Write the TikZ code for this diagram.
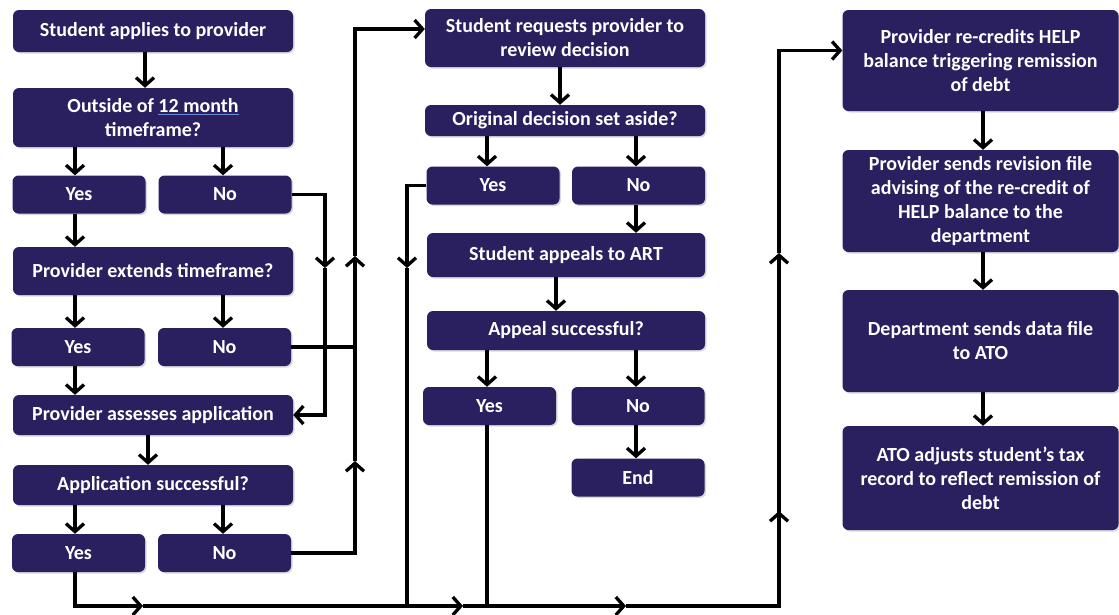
\documentclass[tikz,border=0pt]{standalone}
\usepackage{fontspec}
\setmainfont{Carlito}
\usetikzlibrary{arrows.meta,shadows}

\definecolor{boxblue}{RGB}{42,31,95}
\definecolor{ulblue}{RGB}{110,140,220}

\tikzset{
    box/.style = {fill=boxblue, text=white, rounded corners=6pt, align=center,
        font=\bfseries\fontsize{20}{24}\selectfont, inner sep=1pt,
        drop shadow={shadow xshift=1.5pt, shadow yshift=-1.5pt, opacity=.3}},
    wide/.style  = {box, minimum width=280pt},
    small/.style = {box, minimum width=133pt, minimum height=38pt},
    arr/.style   = {line width=3.3pt, -{Straight Barb[length=8pt, width=18pt]}},
    wire/.style  = {line width=3.3pt}
}

\begin{document}
\begin{tikzpicture} [x=1pt, y=-1pt]
    \useasboundingbox (0,0) rectangle (1119,614);

    % Linke Spalte
    \node [wide, minimum height=42pt] (apply)  at (153,31)   {Student applies to provider};
    \node [wide, minimum height=59pt] (outside) at (153,117.5)
        {Outside of \textcolor{ulblue}{\underline{\textcolor{white}{12 month}}}\\timeframe?};
    \node [small] (yesA) at (79,194.5)  {Yes};
    \node [small] (noA)  at (225,194.5) {No};
    \node [wide, minimum height=48pt] (extend) at (153,271)  {Provider extends timeframe?};
    \node [small] (yesB) at (78,347)    {Yes};
    \node [small] (noB)  at (224.5,347) {No};
    \node [wide, minimum height=40pt] (assess) at (153,415)  {Provider assesses application};
    \node [wide, minimum height=40pt] (appsucc) at (153,485) {Application successful?};
    \node [small] (yesC) at (78.5,553)  {Yes};
    \node [small] (noC)  at (224.5,553) {No};

    % Mittlere Spalte
    \node [wide, minimum height=58pt] (review) at (565,38)    {Student requests provider to\\review decision};
    \node [wide, minimum height=31pt] (aside)  at (565,120.5) {Original decision set aside?};
    \node [small] (yesD) at (493,185.5)   {Yes};
    \node [small] (noD)  at (638.5,185.5) {No};
    \node [wide, minimum width=278pt, minimum height=44pt] (art)     at (566,255)   {Student appeals to ART};
    \node [wide, minimum width=278pt, minimum height=39pt] (appeal)  at (566,330.5) {Appeal successful?};
    \node [small] (yesE) at (489.5,406) {Yes};
    \node [small] (noE)  at (638,406)   {No};
    \node [small] (end)  at (638,477.5) {End};

    % Rechte Spalte
    \node [wide, minimum width=276pt, minimum height=101pt] (recredit) at (980.5,60.5)
        {Provider re-credits HELP\\balance triggering remission\\of debt};
    \node [wide, minimum width=276pt, minimum height=102pt] (revfile)  at (980.5,201)
        {Provider sends revision file\\advising of the re-credit of\\HELP balance to the\\department};
    \node [wide, minimum width=276pt, minimum height=102pt] (datafile) at (980.5,341)
        {Department sends data file\\to ATO};
    \node [wide, minimum width=276pt, minimum height=104pt] (adjust)   at (980.5,478)
        {ATO adjusts student's tax\\record to reflect remission of\\debt};

    % Hilfspunkte
    \coordinate (k1) at (325,268);
    \coordinate (k2) at (355,461);
    \coordinate (k3) at (355,256);
    \coordinate (q1) at (407,268);
    \coordinate (m1) at (143,606);
    \coordinate (m2) at (463,606);
    \coordinate (m3) at (626,606);
    \coordinate (m4) at (779,511);
    \coordinate (m5) at (779,253);

    % Pfeile links
    \draw [arr] (apply.south -| 145,0) -- (outside.north -| 145,0);
    \draw [arr] (outside.south -| 75,0) -- (yesA.north -| 75,0);
    \draw [arr] (outside.south -| 223,0) -- (noA.north -| 223,0);
    \draw [arr] (yesA.south -| 75,0) -- (extend.north -| 75,0);
    \draw [arr] (extend.south -| 75,0) -- (yesB.north -| 75,0);
    \draw [arr] (extend.south -| 223,0) -- (noB.north -| 223,0);
    \draw [arr] (yesB.south -| 75,0) -- (assess.north -| 75,0);
    \draw [arr] (assess.south -| 148,0) -- (appsucc.north -| 148,0);
    \draw [arr] (appsucc.south -| 75,0) -- (yesC.north -| 75,0);
    \draw [arr] (appsucc.south -| 223,0) -- (noC.north -| 223,0);

    % No -> Provider assesses application
    \draw [arr] (noA.east) -| (k1);
    \draw [arr] (k1) |- (assess.east);

    % No -> Review
    \draw [wire] (noB.east) -- (noB.east -| k2);
    \draw [arr] (noC.east) -| (k2);
    \draw [arr] (k2) -- (k3);
    \draw [arr] (k3) |- ([yshift=9pt]review.west);

    % Pfeile Mitte
    \draw [arr] (review.south -| 560,0) -- (aside.north -| 560,0);
    \draw [arr] (aside.south -| 487,0) -- (yesD.north -| 487,0);
    \draw [arr] (aside.south -| 636,0) -- (noD.north -| 636,0);
    \draw [arr] (noD.south -| 636,0) -- (art.north -| 636,0);
    \draw [arr] (art.south -| 556,0) -- (appeal.north -| 556,0);
    \draw [arr] (appeal.south -| 487,0) -- (yesE.north -| 487,0);
    \draw [arr] (appeal.south -| 636,0) -- (noE.north -| 636,0);
    \draw [arr] (noE.south -| 636,0) -- (end.north -| 636,0);

    % Yes -> Re-credit
    \draw [arr] (yesC.south -| 75,0) |- (m1);
    \draw [arr] (m1) -- (m2);
    \draw [arr] (m2) -- (m3);
    \draw [wire] (m3) -| (m4);
    \draw [arr] (m3 -| m4) -- (m4);
    \draw [arr] (m4) -- (m5);
    \draw [arr] (m5) |- ([yshift=10pt]recredit.west);
    \draw [arr] (yesD.west) -| (q1);
    \draw [wire] (q1) -- (q1 |- m1);
    \draw [wire] (yesE.south -| 487,0) -- (m1 -| 487,0);

    % Pfeile rechts
    \draw [arr] (recredit.south -| 983,0) -- (revfile.north -| 983,0);
    \draw [arr] (revfile.south -| 983,0) -- (datafile.north -| 983,0);
    \draw [arr] (datafile.south -| 983,0) -- (adjust.north -| 983,0);
\end{tikzpicture}
\end{document}
